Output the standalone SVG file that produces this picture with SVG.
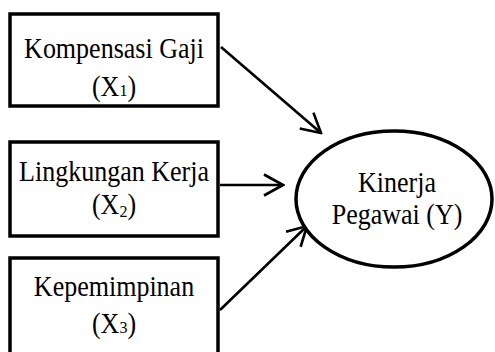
<svg xmlns="http://www.w3.org/2000/svg" width="495" height="352" viewBox="0 0 495 352">
<style>
.box{fill:#fff;stroke:#000;stroke-width:3.5}
.t{font-family:"Liberation Serif","Times New Roman",serif;font-size:26px;fill:#000;text-anchor:middle}
.sub{font-size:16px}
.con{stroke:#000;stroke-width:2.6;fill:none}
</style>
<defs>
<marker id="ah" markerUnits="userSpaceOnUse" viewBox="-22 -13 24 26" markerWidth="24" markerHeight="26" refX="0" refY="0" orient="auto">
<path d="M-19,-10.5 L0,0 L-19,10.5" fill="none" stroke="#000" stroke-width="2.6"/>
</marker>
</defs>
<rect width="495" height="352" fill="#fff"/>
<g id="connectors">
<line class="con" x1="221" y1="47" x2="321" y2="133" marker-end="url(#ah)"/>
<line class="con" x1="220" y1="185" x2="283" y2="185" marker-end="url(#ah)"/>
<line class="con" x1="220" y1="310" x2="307" y2="226" marker-end="url(#ah)"/>
</g>
<g id="x1">
<rect class="box" x="10" y="14" width="208" height="92"/>
<text class="t" transform="translate(114,58) scale(1,1.1)">Kompensasi Gaji</text>
<text class="t" transform="translate(114,96) scale(1,1.1)">(X<tspan class="sub">1</tspan>)</text>
</g>
<g id="x2">
<rect class="box" x="10" y="142" width="208" height="94"/>
<text class="t" transform="translate(114,181) scale(1,1.1)">Lingkungan Kerja</text>
<text class="t" transform="translate(114,214) scale(1,1.1)">(X<tspan class="sub" dy="3">2</tspan><tspan dy="-3">)</tspan></text>
</g>
<g id="x3">
<rect class="box" x="10" y="258" width="208" height="100"/>
<text class="t" transform="translate(114,296) scale(1,1.1)">Kepemimpinan</text>
<text class="t" transform="translate(114,333) scale(1,1.1)">(X<tspan class="sub">3</tspan>)</text>
</g>
<g id="y">
<ellipse class="box" cx="394" cy="199" rx="98" ry="68"/>
<text class="t" transform="translate(397,192) scale(1,1.1)">Kinerja</text>
<text class="t" transform="translate(397,224) scale(1,1.1)">Pegawai (Y)</text>
</g>
</svg>
